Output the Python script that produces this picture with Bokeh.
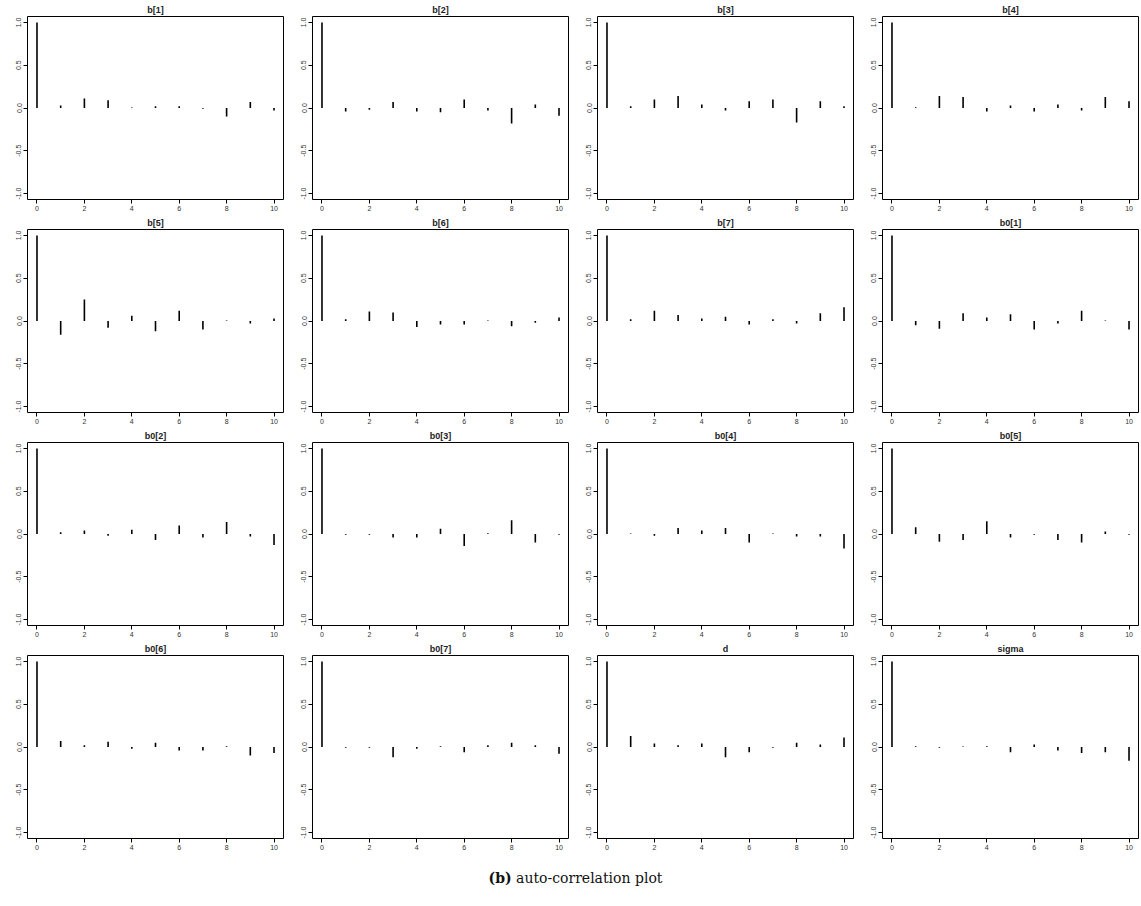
import math
from bokeh.plotting import figure
from bokeh.layouts import gridplot, column
from bokeh.models import Div, FixedTicker
from bokeh.embed import file_html
from bokeh.resources import INLINE

lags = [0, 1, 2, 3, 4, 5, 6, 7, 8, 9, 10]

titles = ["b[1]", "b[2]", "b[3]", "b[4]",
          "b[5]", "b[6]", "b[7]", "b0[1]",
          "b0[2]", "b0[3]", "b0[4]", "b0[5]",
          "b0[6]", "b0[7]", "d", "sigma"]

acf_b1 = [1.0, 0.03, 0.11, 0.09, 0.005, 0.02, 0.02, -0.01, -0.10, 0.07, -0.03]
acf_b2 = [1.0, -0.04, -0.02, 0.07, -0.04, -0.05, 0.10, -0.03, -0.18, 0.04, -0.09]
acf_b3 = [1.0, 0.02, 0.10, 0.14, 0.04, -0.03, 0.08, 0.10, -0.17, 0.08, 0.02]
acf_b4 = [1.0, 0.01, 0.14, 0.13, -0.04, 0.03, -0.04, 0.04, -0.03, 0.13, 0.08]
acf_b5 = [1.0, -0.16, 0.25, -0.08, 0.06, -0.12, 0.12, -0.10, 0.005, -0.03, 0.03]
acf_b6 = [1.0, 0.02, 0.11, 0.10, -0.07, -0.04, -0.04, 0.005, -0.06, -0.02, 0.04]
acf_b7 = [1.0, 0.02, 0.12, 0.07, 0.03, 0.05, -0.04, 0.02, -0.03, 0.09, 0.16]
acf_b01 = [1.0, -0.05, -0.09, 0.09, 0.04, 0.08, -0.10, -0.03, 0.12, 0.005, -0.10]
acf_b02 = [1.0, 0.02, 0.04, -0.02, 0.05, -0.07, 0.10, -0.04, 0.14, -0.03, -0.13]
acf_b03 = [1.0, -0.01, -0.01, -0.04, -0.04, 0.06, -0.14, 0.01, 0.16, -0.10, -0.01]
acf_b04 = [1.0, 0.005, -0.02, 0.07, 0.04, 0.07, -0.10, 0.005, -0.03, -0.03, -0.17]
acf_b05 = [1.0, 0.08, -0.09, -0.07, 0.15, -0.04, -0.01, -0.07, -0.10, 0.03, -0.01]
acf_b06 = [1.0, 0.07, 0.02, 0.06, -0.02, 0.05, -0.04, -0.04, 0.01, -0.10, -0.07]
acf_b07 = [1.0, -0.01, -0.01, -0.12, -0.02, 0.01, -0.06, 0.02, 0.05, 0.02, -0.08]
acf_d = [1.0, 0.13, 0.04, 0.02, 0.04, -0.12, -0.06, -0.01, 0.05, 0.03, 0.11]
acf_sigma = [1.0, 0.01, -0.01, 0.005, 0.01, -0.06, 0.03, -0.04, -0.07, -0.06, -0.16]

all_acf = [acf_b1, acf_b2, acf_b3, acf_b4, acf_b5, acf_b6, acf_b7, acf_b01,
           acf_b02, acf_b03, acf_b04, acf_b05, acf_b06, acf_b07, acf_d, acf_sigma]

x_ticks = [0, 2, 4, 6, 8, 10]
y_ticks = [-1.0, -0.5, 0.0, 0.5, 1.0]
y_tick_labels = {-1.0: "-1.0", -0.5: "-0.5", 0.0: "0.0", 0.5: "0.5", 1.0: "1.0"}

FONT = "Liberation Sans"

figs = []
for t, vals in zip(titles, all_acf):
    p = figure(width=285, height=213, output_backend="svg", toolbar_location=None,
               x_range=(-0.4, 10.4), y_range=(-1.07, 1.07),
               min_border_left=27, min_border_right=2, min_border_top=4,
               min_border_bottom=4)
    p.title.text = t
    p.title.align = "center"
    p.title.text_font = FONT
    p.title.text_font_size = "9px"
    p.title.text_font_style = "bold"
    p.title.text_color = "#222222"
    p.title.standoff = 4
    p.title.offset = 0
    p.outline_line_color = "black"
    p.outline_line_width = 1
    p.outline_line_alpha = 1
    p.xgrid.visible = False
    p.ygrid.visible = False
    p.segment(x0=lags, y0=[0] * len(lags), x1=lags, y1=vals,
              line_color="black", line_width=1.6)
    for ax in (p.xaxis[0], p.yaxis[0]):
        ax.axis_line_color = "black"
        ax.major_tick_line_color = "black"
        ax.minor_tick_line_color = None
        ax.major_tick_out = 4
        ax.major_tick_in = 0
        ax.major_label_text_font = FONT
        ax.major_label_text_font_size = "7px"
        ax.major_label_text_color = "#333333"
        ax.major_label_standoff = 2
    p.xaxis[0].ticker = FixedTicker(ticks=x_ticks)
    p.xaxis[0].bounds = (0, 10)
    p.yaxis[0].ticker = FixedTicker(ticks=y_ticks)
    p.yaxis[0].major_label_overrides = y_tick_labels
    p.yaxis[0].bounds = (-1, 1)
    p.yaxis[0].major_label_orientation = "vertical"
    figs.append(p)

grid = gridplot(figs, ncols=4, toolbar_location=None)

caption = Div(text='<div style="width:1141px;text-align:center;font-family:\'DejaVu Serif\',\'Liberation Serif\',serif;font-size:14px;color:#111;"><b>(b)</b> auto-correlation plot</div>',
              width=1141, height=40, styles={"margin-top": "16px"})

layout = column(grid, caption)

open("out.html", "w").write(file_html(layout, INLINE))
